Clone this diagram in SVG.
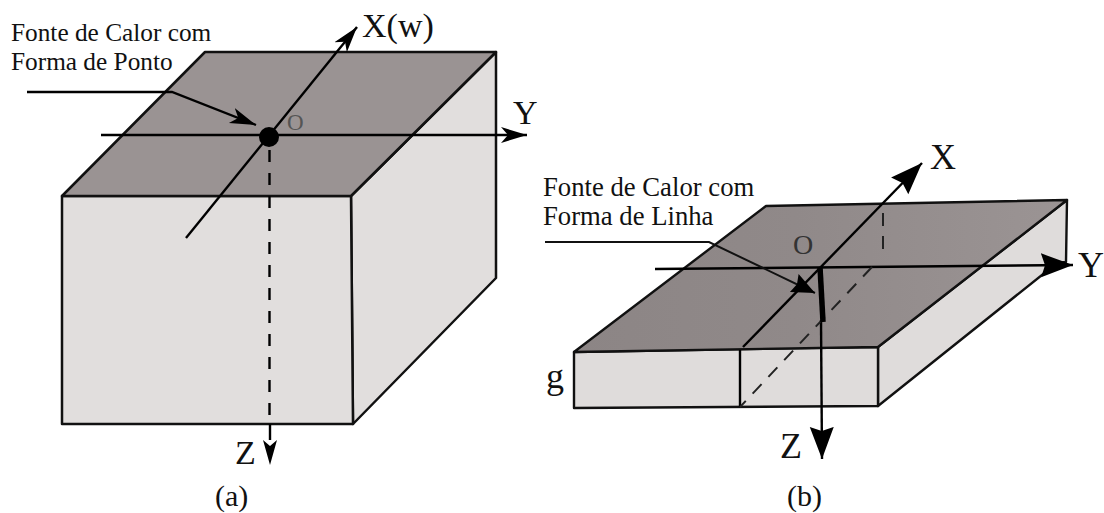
<svg xmlns="http://www.w3.org/2000/svg" width="1104" height="513" viewBox="0 0 1104 513">
<style>
text{font-family:"Liberation Serif","Times New Roman",serif;fill:#111}
.top{fill:#9a9393;stroke:#111;stroke-width:2.5;stroke-linejoin:round}
.topb{fill:url(#gb);stroke:#111;stroke-width:2.4;stroke-linejoin:round}
.side{fill:#e1dedd;stroke:#111;stroke-width:2.5;stroke-linejoin:round}
.sideb{fill:#dfdcdb;stroke:#111;stroke-width:2.4;stroke-linejoin:round}
.ln{fill:none;stroke:#000;stroke-width:2.4}
.ln2{fill:none;stroke:#111;stroke-width:2}
.dash{fill:none;stroke:#000;stroke-width:2.4;stroke-dasharray:12 11}
.dash2{fill:none;stroke:#222;stroke-width:2;stroke-dasharray:13 10}
.lbl{font-size:25.3px}
.lblb{font-size:26.7px}
.ax{font-size:34px}
.axb{font-size:36px}
.cap{font-size:30px}
</style>
<defs>
<linearGradient id="gb" x1="0" x2="1" y1="0" y2="0"><stop offset="0" stop-color="#8c8585"/><stop offset="0.45" stop-color="#908989"/><stop offset="1" stop-color="#9b9494"/></linearGradient>
<marker id="head" markerUnits="userSpaceOnUse" markerWidth="28" markerHeight="20" refX="26" refY="10" orient="auto"><path d="M0 2 L26 10 L0 18 L7 10 Z" fill="#000"/></marker>
<marker id="headb" markerUnits="userSpaceOnUse" markerWidth="36" markerHeight="28" refX="32" refY="14" orient="auto"><path d="M0 2 L32 14 L0 26 L4 14 Z" fill="#000"/></marker>
<marker id="headl" markerUnits="userSpaceOnUse" markerWidth="26" markerHeight="24" refX="23" refY="12" orient="auto"><path d="M0 2 L23 12 L0 22 L3 12 Z" fill="#000"/></marker>
</defs>
<rect width="1104" height="513" fill="#fff"/>
<g id="box-a">
<path class="side" d="M496 52 L496 278 L353 424 L351 196 Z"/>
<path class="side" d="M62 196 H351 L353 424 H62 Z"/>
<path class="top" d="M205 52 H496 L351 196 H62 Z"/>
</g>
<g id="box-b">
<path class="sideb" d="M1067 200 L1066 262 L1057 263 L878 406 L878 347 Z"/>
<path class="sideb" d="M574 352 L878 347 L878 406 L574 408 Z"/>
<path class="topb" d="M766 206 L1067 200 L878 347 L574 352 Z"/>
<path class="ln" d="M740 350 V407"/>
</g>
<g id="connectors">
<path class="ln" d="M186 238 L357 27" marker-end="url(#head)"/>
<path class="ln" d="M101 135 H527" marker-end="url(#head)"/>
<path class="ln" d="M27 92 H172 L256 125" marker-end="url(#head)"/>
<path class="dash" d="M269.5 150 V424"/>
<path class="ln" d="M270 424 V440"/>
<path d="M270 465 L263 440 L270 446 L277 440 Z" fill="#000"/>
<path class="ln" d="M743 347 L922 163" marker-end="url(#headb)"/>
<path class="ln" d="M655 269 L1073 265" marker-end="url(#headb)"/>
<path class="ln2" d="M545 242 H709 L815 293" marker-end="url(#headl)"/>
<path class="ln" d="M821 320 L822 459" marker-end="url(#headb)"/>
<path class="dash2" d="M883 213 V258"/>
<path class="dash2" d="M872 267 L740 407"/>
</g>
<g id="source-a"><circle cx="269" cy="137" r="10" fill="#000"/></g>
<g id="source-b"><path d="M820 267 L823 322" stroke="#000" stroke-width="5.5" fill="none"/></g>
<g id="labels">
<text class="lbl" x="11" y="41">Fonte de Calor com</text>
<text class="lbl" x="11" y="70">Forma de Ponto</text>
<text class="ax" x="362" y="37">X(w)</text>
<text class="ax" x="513" y="124">Y</text>
<text x="287" y="130" font-size="23" style="fill:#555">O</text>
<text class="ax" x="235" y="464">Z</text>
<text class="cap" x="215" y="506">(a)</text>
<text class="lblb" x="543" y="196">Fonte de Calor com</text>
<text class="lblb" x="543" y="225">Forma de Linha</text>
<text x="793" y="254" font-size="28" style="fill:#333">O</text>
<text class="axb" x="930" y="169">X</text>
<text class="axb" x="1078" y="277">Y</text>
<text class="axb" x="780" y="458">Z</text>
<text class="axb" x="546" y="388">g</text>
<text class="cap" x="787" y="506">(b)</text>
</g>
</svg>
